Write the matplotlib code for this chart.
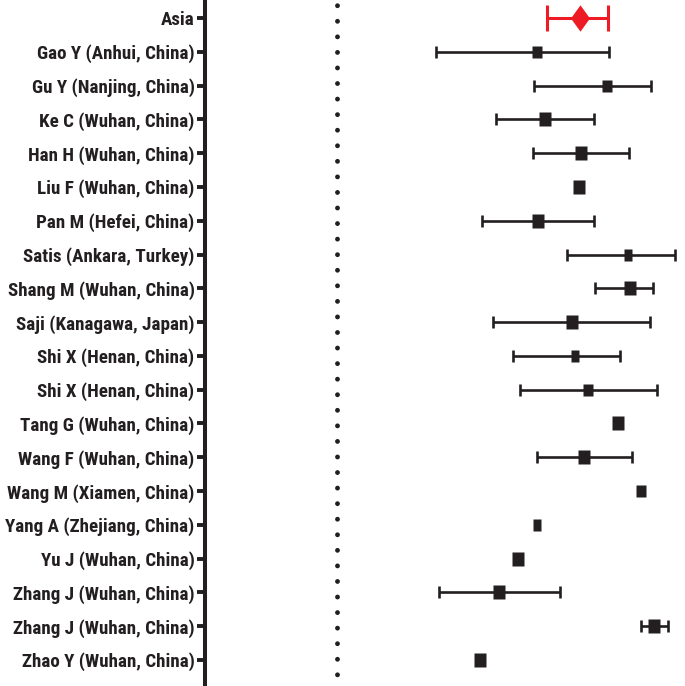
import numpy as np
import matplotlib
matplotlib.use("Agg")
import matplotlib.pyplot as plt

# study labels, top to bottom
studies = [
    "Asia",
    "Gao Y (Anhui, China)",
    "Gu Y (Nanjing, China)",
    "Ke C (Wuhan, China)",
    "Han H (Wuhan, China)",
    "Liu F (Wuhan, China)",
    "Pan M (Hefei, China)",
    "Satis (Ankara, Turkey)",
    "Shang M (Wuhan, China)",
    "Saji (Kanagawa, Japan)",
    "Shi X (Henan, China)",
    "Shi X (Henan, China)",
    "Tang G (Wuhan, China)",
    "Wang F (Wuhan, China)",
    "Wang M (Xiamen, China)",
    "Yang A (Zhejiang, China)",
    "Yu J (Wuhan, China)",
    "Zhang J (Wuhan, China)",
    "Zhang J (Wuhan, China)",
    "Zhao Y (Wuhan, China)",
]
# point estimates and CI bounds (nan = no interval drawn)
est = [2.43, 2.00, 2.70, 2.08, 2.44, 2.42, 2.01, 2.91, 2.93, 2.35,
       2.38, 2.51, 2.81, 2.47, 3.04, 2.00, 1.81, 1.62, 3.17, 1.43]
lo = [2.10, 0.99, 1.97, 1.59, 1.96, np.nan, 1.45, 2.30, 2.58, 1.56,
      1.76, 1.83, np.nan, 2.00, np.nan, np.nan, np.nan, 1.02, 3.04, np.nan]
hi = [2.71, 2.72, 3.14, 2.57, 2.92, np.nan, 2.57, 3.38, 3.16, 3.13,
      2.83, 3.20, np.nan, 2.95, np.nan, np.nan, np.nan, 2.23, 3.31, np.nan]
ref_line = 0.0

# marker heights (pt) for the study squares
msize = [0, 8.4, 8.4, 10.1, 10.1, 10.1, 10.1, 8.0, 10.1, 10.1,
         8.0, 8.4, 10.1, 10.1, 8.4, 8.0, 10.4, 10.1, 10.1, 10.1]

plt.rcParams["font.family"] = ["Roboto Condensed", "DejaVu Sans"]

black = "#231f20"
red = "#ed1c24"

fig = plt.figure(figsize=(6.85, 6.86), dpi=100)
ax = fig.add_axes([205 / 685, 0, 480 / 685, 1])

rect = [(-0.4, -0.5), (0.4, -0.5), (0.4, 0.5), (-0.4, 0.5), (-0.4, -0.5)]
ys = np.arange(len(studies))
for i in range(len(studies)):
    if i == 0:
        ax.errorbar(est[i], ys[i], xerr=[[est[i] - lo[i]], [hi[i] - est[i]]],
                    fmt="none", ecolor=red, elinewidth=2.2, capsize=9.5, capthick=2.2, zorder=2)
        ax.plot(est[i], ys[i], marker=[(0, 0.5), (0.36, 0), (0, -0.5), (-0.36, 0), (0, 0.5)],
                markersize=19, color=red, mec="none", zorder=3)
        continue
    if not np.isnan(lo[i]):
        ax.errorbar(est[i], ys[i], xerr=[[est[i] - lo[i]], [hi[i] - est[i]]],
                    fmt="none", ecolor=black, elinewidth=1.9, capsize=4, capthick=1.9, zorder=2)
    ax.plot(est[i], ys[i], marker=rect, markersize=msize[i], color=black, mec="none", zorder=3)

ax.axvline(ref_line, color=black, lw=3.5, linestyle=(0.8, (0.001, 3.2)),
           dash_capstyle="round", zorder=1)

ax.set_xlim(-1.32, 3.48)
ax.set_ylim(19 + 26 / 33.79, -18 / 33.79)
ax.set_yticks(ys)
ax.set_yticklabels(studies, fontsize=13.7, fontweight="bold", color=black)
ax.tick_params(axis="y", length=5.5, width=2.8, pad=2, color=black)
ax.set_xticks([])
for s in ["top", "right", "bottom"]:
    ax.spines[s].set_visible(False)
ax.spines["left"].set_linewidth(2.9)
ax.spines["left"].set_color(black)

fig.savefig("out.png", dpi=100)
